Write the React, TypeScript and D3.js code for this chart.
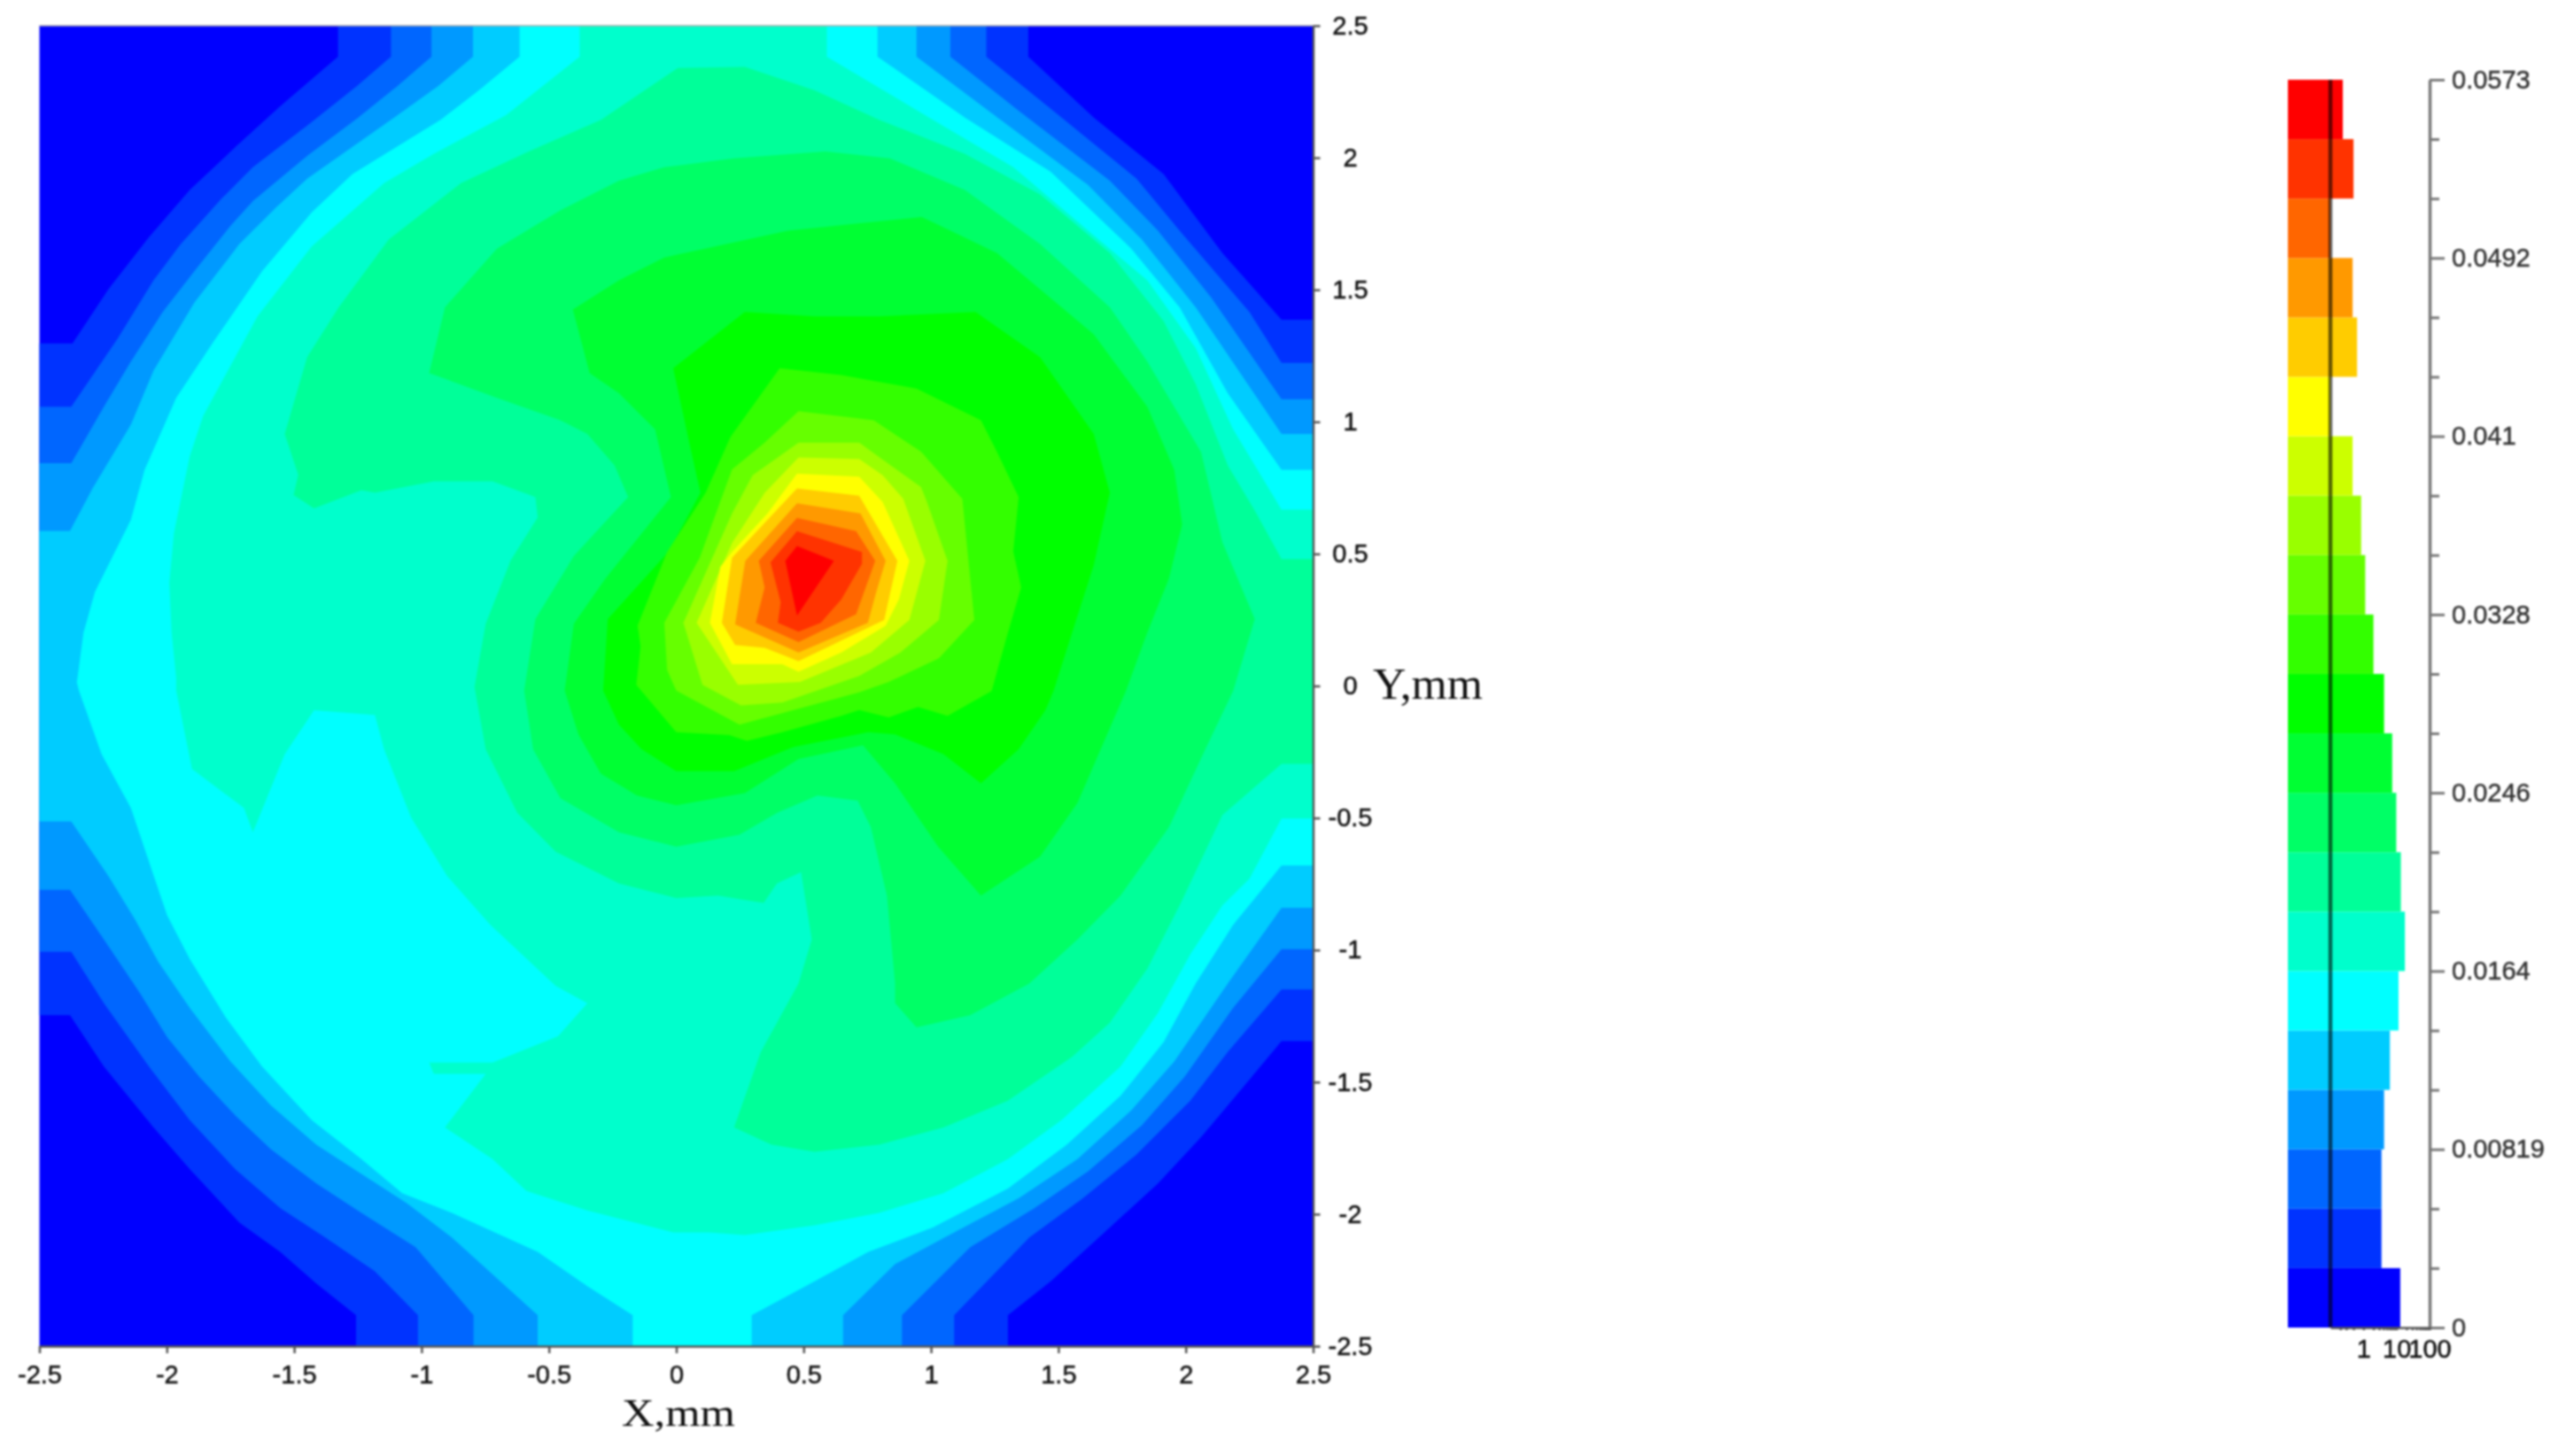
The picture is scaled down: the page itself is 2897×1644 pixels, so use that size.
import React, { useEffect, useRef } from 'react';
import * as d3 from 'd3';

type Pt = [number, number];

// 21 colour classes of the map, lowest first
const bandColors = ['#0000ff', '#0033ff', '#0066ff', '#0099ff', '#00ccff', '#00ffff', '#00ffcc', '#00ff99', '#00ff66', '#00ff33', '#00ff00', '#33ff00', '#66ff00', '#99ff00', '#ccff00', '#ffff00', '#ffcc00', '#ff9900', '#ff6600', '#ff3300', '#ff0000'];

// share of the map in each class (%), lowest class first, log axis of the histogram
const histogramPercent = [13, 3.5, 3.5, 4.2, 6.3, 11.5, 17.9, 13.5, 9.8, 7.4, 4.2, 2.0, 1.13, 0.85, 0.47, 0.1, 0.64, 0.47, 0.1, 0.5, 0.237];

const axisTicks = [-2.5, -2, -1.5, -1, -0.5, 0, 0.5, 1, 1.5, 2, 2.5];
const legendMax = 0.0573;
const legendLabels = ['0', '0.00819', '0.0164', '0.0246', '0.0328', '0.041', '0.0492', '0.0573'];
const histTicks = [0.2, 0.3, 0.5, 1, 2, 3, 4, 5, 6, 7, 8, 9, 10, 20, 30, 40, 50, 60, 70, 80, 90, 100];
const histLabels = [1, 10, 100];

// filled contours in mm, each one is "value >= class n"
const contour01: Pt[] = [[-2.5, 1.297], [-2.37, 1.297], [-2.229, 1.502], [-2.07, 1.699], [-1.91, 1.878], [-1.73, 2.041], [-1.555, 2.195], [-1.328, 2.383], [-1.328, 2.5], [1.382, 2.5], [1.382, 2.383], [1.639, 2.152], [1.913, 1.938], [2.144, 1.639], [2.376, 1.387], [2.5, 1.387], [2.5, -1.345], [2.376, -1.345], [2.229, -1.515], [2.06, -1.709], [1.891, -1.884], [1.681, -2.069], [1.47, -2.254], [1.302, -2.383], [1.302, -2.5], [-1.257, -2.5], [-1.257, -2.383], [-1.413, -2.263], [-1.555, -2.143], [-1.715, -2.032], [-1.91, -1.829], [-2.052, -1.672], [-2.247, -1.441], [-2.38, -1.247], [-2.5, -1.247]];
const contour02: Pt[] = [[-2.5, 1.057], [-2.375, 1.057], [-2.194, 1.314], [-2.052, 1.536], [-1.945, 1.673], [-1.786, 1.844], [-1.662, 1.964], [-1.431, 2.135], [-1.253, 2.272], [-1.12, 2.383], [-1.12, 2.5], [1.217, 2.5], [1.217, 2.383], [1.47, 2.186], [1.807, 1.921], [1.976, 1.724], [2.25, 1.416], [2.376, 1.223], [2.5, 1.223], [2.5, -1.149], [2.376, -1.149], [2.165, -1.386], [2.018, -1.57], [1.807, -1.774], [1.596, -1.94], [1.386, -2.088], [1.091, -2.383], [1.091, -2.5], [-1.014, -2.5], [-1.014, -2.383], [-1.183, -2.217], [-1.378, -2.088], [-1.555, -1.977], [-1.732, -1.829], [-1.91, -1.644], [-2.07, -1.441], [-2.247, -1.201], [-2.375, -1.007], [-2.5, -1.007]];
const contour03: Pt[] = [[-2.5, 0.843], [-2.375, 0.843], [-2.247, 1.057], [-2.141, 1.228], [-2.016, 1.416], [-1.892, 1.57], [-1.75, 1.742], [-1.662, 1.836], [-1.449, 2.007], [-1.253, 2.149], [-1.094, 2.272], [-0.961, 2.383], [-0.961, 2.5], [1.076, 2.5], [1.076, 2.383], [1.344, 2.178], [1.702, 1.913], [1.891, 1.724], [2.102, 1.468], [2.376, 1.086], [2.5, 1.086], [2.5, -0.997], [2.376, -0.997], [2.186, -1.219], [1.997, -1.478], [1.828, -1.663], [1.617, -1.838], [1.407, -1.977], [1.154, -2.125], [0.886, -2.383], [0.886, -2.5], [-0.796, -2.5], [-0.796, -2.383], [-1.023, -2.125], [-1.236, -1.995], [-1.413, -1.884], [-1.591, -1.755], [-1.732, -1.626], [-1.874, -1.478], [-1.999, -1.33], [-2.105, -1.164], [-2.247, -0.96], [-2.38, -0.772], [-2.5, -0.772]];
const contour04: Pt[] = [[-2.5, 0.587], [-2.38, 0.587], [-2.291, 0.749], [-2.141, 0.989], [-2.052, 1.194], [-1.892, 1.451], [-1.715, 1.673], [-1.573, 1.81], [-1.449, 1.921], [-1.094, 2.161], [-0.934, 2.272], [-0.798, 2.383], [-0.798, 2.5], [0.943, 2.5], [0.943, 2.383], [1.238, 2.169], [1.617, 1.896], [1.828, 1.69], [2.039, 1.434], [2.376, 0.954], [2.5, 0.954], [2.5, -0.84], [2.376, -0.84], [2.165, -1.127], [1.955, -1.422], [1.786, -1.607], [1.575, -1.792], [1.344, -1.94], [1.091, -2.069], [0.859, -2.189], [0.655, -2.383], [0.655, -2.5], [-0.544, -2.5], [-0.544, -2.383], [-0.881, -2.088], [-1.058, -1.958], [-1.236, -1.848], [-1.413, -1.737], [-1.591, -1.589], [-1.75, -1.422], [-1.91, -1.219], [-2.034, -1.044], [-2.123, -0.887], [-2.229, -0.72], [-2.375, -0.513], [-2.5, -0.513]];
const contour05: Pt[] = [[-2.353, 0.013], [-2.327, 0.201], [-2.282, 0.356], [-2.141, 0.629], [-2.087, 0.818], [-1.963, 1.091], [-1.821, 1.297], [-1.626, 1.57], [-1.431, 1.793], [-1.271, 1.938], [-0.925, 2.144], [-0.775, 2.255], [-0.615, 2.383], [-0.615, 2.5], [0.79, 2.5], [0.79, 2.383], [1.133, 2.152], [1.47, 1.947], [1.786, 1.656], [1.976, 1.434], [2.165, 1.108], [2.376, 0.818], [2.5, 0.818], [2.5, -0.68], [2.376, -0.68], [2.186, -0.905], [2.039, -1.127], [1.913, -1.349], [1.744, -1.552], [1.533, -1.737], [1.302, -1.903], [1.007, -2.051], [0.754, -2.143], [0.543, -2.254], [0.296, -2.383], [0.296, -2.5], [-0.171, -2.5], [-0.171, -2.383], [-0.349, -2.273], [-0.544, -2.143], [-0.881, -1.995], [-1.076, -1.921], [-1.236, -1.792], [-1.431, -1.644], [-1.626, -1.441], [-1.768, -1.256], [-1.91, -1.034], [-1.999, -0.868], [-2.141, -0.462], [-2.256, -0.258], [-2.345, -0.018]];
const contour06: Pt[] = [[-1.963, 0.03], [-1.981, 0.202], [-1.99, 0.39], [-1.972, 0.578], [-1.91, 0.869], [-1.857, 1.023], [-1.644, 1.399], [-1.431, 1.664], [-1.147, 1.904], [-0.952, 2.015], [-0.668, 2.161], [-0.379, 2.383], [-0.379, 2.5], [0.591, 2.5], [0.591, 2.383], [1.007, 2.144], [1.323, 1.964], [1.617, 1.724], [1.849, 1.536], [2.039, 1.279], [2.186, 0.972], [2.376, 0.667], [2.5, 0.667], [2.5, -0.502], [2.376, -0.502], [2.25, -0.73], [2.144, -0.831], [2.018, -1.016], [1.891, -1.238], [1.744, -1.441], [1.512, -1.644], [1.302, -1.792], [1.049, -1.921], [0.796, -1.995], [0.543, -2.042], [0.269, -2.079], [0.127, -2.069], [-0.012, -2.069], [-0.349, -1.986], [-0.588, -1.912], [-0.721, -1.792], [-0.908, -1.672], [-0.748, -1.469], [-0.952, -1.469], [-0.97, -1.426], [-0.721, -1.426], [-0.464, -1.326], [-0.349, -1.201], [-0.473, -1.136], [-0.73, -0.905], [-0.899, -0.72], [-1.041, -0.498], [-1.147, -0.24], [-1.183, -0.11], [-1.422, -0.092], [-1.537, -0.258], [-1.662, -0.554], [-1.697, -0.462], [-1.901, -0.314], [-1.963, -0.018]];
const contour07: Pt[] = [[-0.792, -0.004], [-0.748, 0.236], [-0.65, 0.475], [-0.544, 0.638], [-0.553, 0.715], [-0.721, 0.775], [-0.952, 0.775], [-1.183, 0.732], [-1.236, 0.741], [-1.422, 0.672], [-1.502, 0.723], [-1.484, 0.8], [-1.537, 0.954], [-1.449, 1.245], [-1.325, 1.434], [-1.129, 1.69], [-0.845, 1.904], [-0.579, 2.024], [-0.295, 2.144], [0.006, 2.34], [0.269, 2.344], [0.543, 2.255], [0.796, 2.144], [1.133, 2.015], [1.428, 1.861], [1.702, 1.639], [1.913, 1.382], [2.039, 1.143], [2.165, 0.835], [2.271, 0.664], [2.376, 0.48], [2.5, 0.48], [2.5, -0.295], [2.376, -0.295], [2.144, -0.489], [1.976, -0.831], [1.849, -1.071], [1.702, -1.275], [1.554, -1.404], [1.302, -1.57], [1.049, -1.672], [0.796, -1.737], [0.543, -1.764], [0.374, -1.737], [0.227, -1.672], [0.332, -1.386], [0.48, -1.127], [0.532, -0.96], [0.49, -0.705], [0.395, -0.748], [0.343, -0.822], [0.164, -0.794], [0, -0.803], [-0.225, -0.748], [-0.473, -0.628], [-0.624, -0.48], [-0.748, -0.24]];
const contour08: Pt[] = [[-0.597, -0.018], [-0.553, 0.253], [-0.402, 0.492], [-0.189, 0.715], [-0.242, 0.835], [-0.349, 0.954], [-0.455, 1.006], [-0.704, 1.091], [-0.97, 1.185], [-0.908, 1.434], [-0.704, 1.656], [-0.455, 1.801], [-0.225, 1.913], [-0.047, 1.964], [0.227, 1.998], [0.585, 2.024], [0.838, 1.998], [1.133, 1.878], [1.428, 1.673], [1.702, 1.434], [1.849, 1.228], [2.06, 0.886], [2.144, 0.544], [2.271, 0.253], [2.186, -0.019], [2.081, -0.231], [1.934, -0.535], [1.744, -0.794], [1.575, -0.96], [1.386, -1.127], [1.154, -1.247], [0.943, -1.293], [0.859, -1.201], [0.859, -1.127], [0.827, -0.794], [0.764, -0.535], [0.712, -0.434], [0.554, -0.415], [0.396, -0.48], [0.248, -0.563], [0, -0.609], [-0.225, -0.554], [-0.455, -0.425], [-0.562, -0.24]];
const contour09: Pt[] = [[-0.438, -0.018], [-0.402, 0.236], [-0.278, 0.407], [-0.021, 0.715], [-0.083, 0.972], [-0.225, 1.108], [-0.34, 1.185], [-0.406, 1.425], [-0.225, 1.536], [-0.047, 1.622], [0.438, 1.724], [0.964, 1.776], [1.259, 1.639], [1.639, 1.331], [1.849, 1.057], [1.955, 0.818], [1.986, 0.612], [1.934, 0.407], [1.849, 0.202], [1.765, -0.019], [1.575, -0.443], [1.428, -0.646], [1.196, -0.794], [1.028, -0.609], [0.859, -0.369], [0.733, -0.225], [0.48, -0.277], [0.269, -0.406], [0, -0.452], [-0.154, -0.415], [-0.296, -0.332], [-0.384, -0.184]];
const contour10: Pt[] = [[-0.287, -0.018], [-0.269, 0.253], [-0.029, 0.51], [0.095, 0.732], [0.059, 0.886], [-0.012, 1.203], [0.269, 1.416], [0.543, 1.399], [0.796, 1.399], [1.175, 1.416], [1.428, 1.245], [1.639, 0.954], [1.702, 0.732], [1.639, 0.458], [1.554, 0.202], [1.481, -0.019], [1.449, -0.092], [1.344, -0.24], [1.196, -0.369], [1.049, -0.258], [0.859, -0.184], [0.754, -0.175], [0.459, -0.231], [0.227, -0.323], [0, -0.323], [-0.136, -0.24], [-0.225, -0.147]];
const contour11: Pt[] = [[0.213, 0.943], [0.406, 1.203], [0.648, 1.177], [0.943, 1.126], [1.196, 1.006], [1.259, 0.886], [1.344, 0.715], [1.323, 0.51], [1.354, 0.373], [1.302, 0.202], [1.238, -0.019], [1.065, -0.113], [0.949, -0.08], [0.834, -0.119], [0.718, -0.091], [0.648, -0.113], [0.416, -0.175], [0.277, -0.208], [0.208, -0.186], [0, -0.175], [-0.157, 0.004], [-0.14, 0.149], [-0.152, 0.228], [-0.036, 0.507], [0.115, 0.731]];
const contour12: Pt[] = [[0.48, 1.04], [0.775, 1.006], [0.961, 0.887], [1.123, 0.708], [1.17, 0.25], [1.031, 0.105], [0.834, 0.015], [0.718, -0.024], [0.486, -0.085], [0.248, -0.147], [0, -0.018], [-0.036, 0.06], [-0.047, 0.239], [0.092, 0.485], [0.219, 0.82], [0.347, 0.921]];
const contour13: Pt[] = [[0.48, 0.921], [0.718, 0.921], [0.961, 0.753], [0.984, 0.697], [1.065, 0.474], [1.031, 0.25], [0.88, 0.127], [0.718, 0.038], [0.416, -0.063], [0.254, -0.074], [0.103, 0.004], [0.028, 0.239], [0.219, 0.653], [0.3, 0.798]];
const contour14: Pt[] = [[0.48, 0.865], [0.718, 0.859], [0.81, 0.798], [0.891, 0.708], [0.978, 0.474], [0.915, 0.25], [0.764, 0.127], [0.486, 0.015], [0.242, 0.004], [0.08, 0.239], [0.219, 0.541], [0.347, 0.731]];
const contour15: Pt[] = [[0.474, 0.804], [0.718, 0.792], [0.81, 0.697], [0.915, 0.474], [0.874, 0.328], [0.822, 0.228], [0.648, 0.127], [0.48, 0.054], [0.416, 0.082], [0.219, 0.082], [0.132, 0.239], [0.173, 0.451], [0.219, 0.507], [0.358, 0.653]];
const contour16: Pt[] = [[0.474, 0.748], [0.718, 0.72], [0.868, 0.474], [0.816, 0.25], [0.648, 0.172], [0.48, 0.094], [0.347, 0.144], [0.231, 0.155], [0.179, 0.239], [0.219, 0.485]];
const contour17: Pt[] = [[0.474, 0.692], [0.723, 0.653], [0.822, 0.474], [0.787, 0.362], [0.752, 0.239], [0.48, 0.127], [0.231, 0.233], [0.271, 0.474]];
const contour18: Pt[] = [[0.474, 0.636], [0.706, 0.586], [0.781, 0.474], [0.706, 0.272], [0.48, 0.166], [0.312, 0.239], [0.347, 0.373], [0.324, 0.474]];
const contour19: Pt[] = [[0.474, 0.586], [0.729, 0.507], [0.729, 0.463], [0.648, 0.328], [0.567, 0.239], [0.48, 0.205], [0.399, 0.239], [0.41, 0.317], [0.37, 0.468]];
const contour20: Pt[] = [[0.474, 0.53], [0.619, 0.474], [0.474, 0.267], [0.428, 0.474]];

const contours = [contour01, contour02, contour03, contour04, contour05, contour06, contour07, contour08, contour09, contour10, contour11, contour12, contour13, contour14, contour15, contour16, contour17, contour18, contour19, contour20];

const WIDTH = 2897;
const HEIGHT = 1644;
const SANS = '"Liberation Sans", Arial, sans-serif';
const SERIF = '"Liberation Serif", "Times New Roman", serif';
const AXIS_GREY = '#555';

export default function App() {
  const svgRef = useRef<SVGSVGElement>(null);

  useEffect(() => {
    if (!svgRef.current) return;
    const svg = d3.select(svgRef.current);
    svg.selectAll('*').remove();

    const x = d3.scaleLinear().domain([-2.5, 2.5]).range([44.5, 1482.5]);
    const y = d3.scaleLinear().domain([-2.5, 2.5]).range([1520, 29]);

    // map: lowest class as a rectangle, then every contour on top of it
    const map = svg.append('g');
    map.append('rect')
      .attr('x', x(-2.5)).attr('y', y(2.5))
      .attr('width', x(2.5) - x(-2.5)).attr('height', y(-2.5) - y(2.5))
      .attr('fill', bandColors[0]);

    const outline = d3.line<Pt>().x(d => x(d[0])).y(d => y(d[1])).curve(d3.curveLinearClosed);
    map.selectAll('path')
      .data(contours)
      .enter().append('path')
      .attr('d', d => outline(d))
      .attr('fill', (_, i) => bandColors[i + 1]);

    // thin top edge of the frame
    svg.append('line')
      .attr('x1', x(-2.5)).attr('x2', x(2.5))
      .attr('y1', y(2.5)).attr('y2', y(2.5))
      .attr('stroke', '#aaa').attr('stroke-width', 1.5);

    const styleAxis = (g: d3.Selection<SVGGElement, unknown, null, undefined>) => {
      g.selectAll('path').attr('stroke', AXIS_GREY).attr('stroke-width', 2.5);
      g.selectAll('line').attr('stroke', AXIS_GREY).attr('stroke-width', 2.5);
      g.selectAll('text')
        .attr('fill', '#111').attr('stroke', '#111').attr('stroke-width', 0.5)
        .style('font-family', SANS).style('font-size', '29px');
    };

    // x axis
    const xAxis = svg.append('g')
      .attr('transform', `translate(0,${y(-2.5)})`)
      .call(d3.axisBottom(x).tickValues(axisTicks).tickFormat(d => String(d)).tickSize(8).tickSizeOuter(0));
    styleAxis(xAxis as any);
    xAxis.selectAll('text').attr('y', 33).attr('dy', '0.32em');

    // y axis, on the right of the map
    const yAxis = svg.append('g')
      .attr('transform', `translate(${x(2.5)},0)`)
      .call(d3.axisRight(y).tickValues(axisTicks).tickFormat(d => String(d)).tickSize(8).tickSizeOuter(0));
    styleAxis(yAxis as any);
    yAxis.selectAll('text').attr('x', 42).attr('text-anchor', 'middle');

    svg.append('text')
      .attr('x', 702).attr('y', 1610)
      .attr('textLength', 128).attr('lengthAdjust', 'spacingAndGlyphs')
      .style('font-family', SERIF).style('font-size', '44px')
      .attr('fill', '#111')
      .text('X,mm');
    svg.append('text')
      .attr('x', 1550).attr('y', 789)
      .attr('textLength', 124).attr('lengthAdjust', 'spacingAndGlyphs')
      .style('font-family', SERIF).style('font-size', '50px')
      .attr('fill', '#111')
      .text('Y,mm');

    // colour legend with the histogram of the classes
    const legendY = d3.scaleLinear().domain([0, legendMax]).range([1499, 90]);
    const binSize = legendMax / bandColors.length;
    const histX = d3.scaleLog().domain([0.1, 100]).range([2631, 2743]);
    const barStart = 2583;

    svg.append('g').selectAll('rect')
      .data(histogramPercent)
      .enter().append('rect')
      .attr('x', barStart)
      .attr('y', (_, i) => legendY((i + 1) * binSize))
      .attr('width', d => histX(d) - barStart)
      .attr('height', (_, i) => legendY(i * binSize) - legendY((i + 1) * binSize))
      .attr('fill', (_, i) => bandColors[i]);

    // dark line at the low end of the log axis
    svg.append('line')
      .attr('x1', histX(0.1)).attr('x2', histX(0.1))
      .attr('y1', legendY(legendMax)).attr('y2', legendY(0))
      .attr('stroke', '#000').attr('stroke-opacity', 0.6).attr('stroke-width', 4.5);

    const legendAxis = svg.append('g')
      .attr('transform', `translate(${histX(100)},0)`)
      .call(d3.axisRight(legendY)
        .tickValues(d3.range(0, bandColors.length + 1).map(i => i * binSize))
        .tickFormat((_, i) => (i % 3 === 0 ? legendLabels[i / 3] : ''))
        .tickSize(11).tickSizeOuter(0).tickPadding(13));
    styleAxis(legendAxis as any);
    legendAxis.selectAll('path').attr('stroke', '#777').attr('stroke-width', 3.5);
    legendAxis.selectAll('line').attr('stroke', '#777').attr('stroke-width', 3);
    legendAxis.selectAll('.tick').filter((_, i) => i % 3 === 0).select('line').attr('x2', 17);
    legendAxis.selectAll('text').attr('fill', '#333').attr('stroke', '#333').attr('x', 25);

    const histAxis = svg.append('g')
      .attr('transform', `translate(0,${legendY(0)})`)
      .call(d3.axisBottom(histX)
        .tickValues(histTicks)
        .tickFormat(d => (histLabels.includes(d as number) ? String(d) : ''))
        .tickSize(3).tickSizeOuter(0).tickPadding(10));
    styleAxis(histAxis as any);
  }, []);

  return (
    <svg
      ref={svgRef}
      width={WIDTH}
      height={HEIGHT}
      viewBox={`0 0 ${WIDTH} ${HEIGHT}`}
      style={{ position: 'absolute', left: 0, top: 0, background: '#fff', filter: 'blur(1px)' }}
    />
  );
}
